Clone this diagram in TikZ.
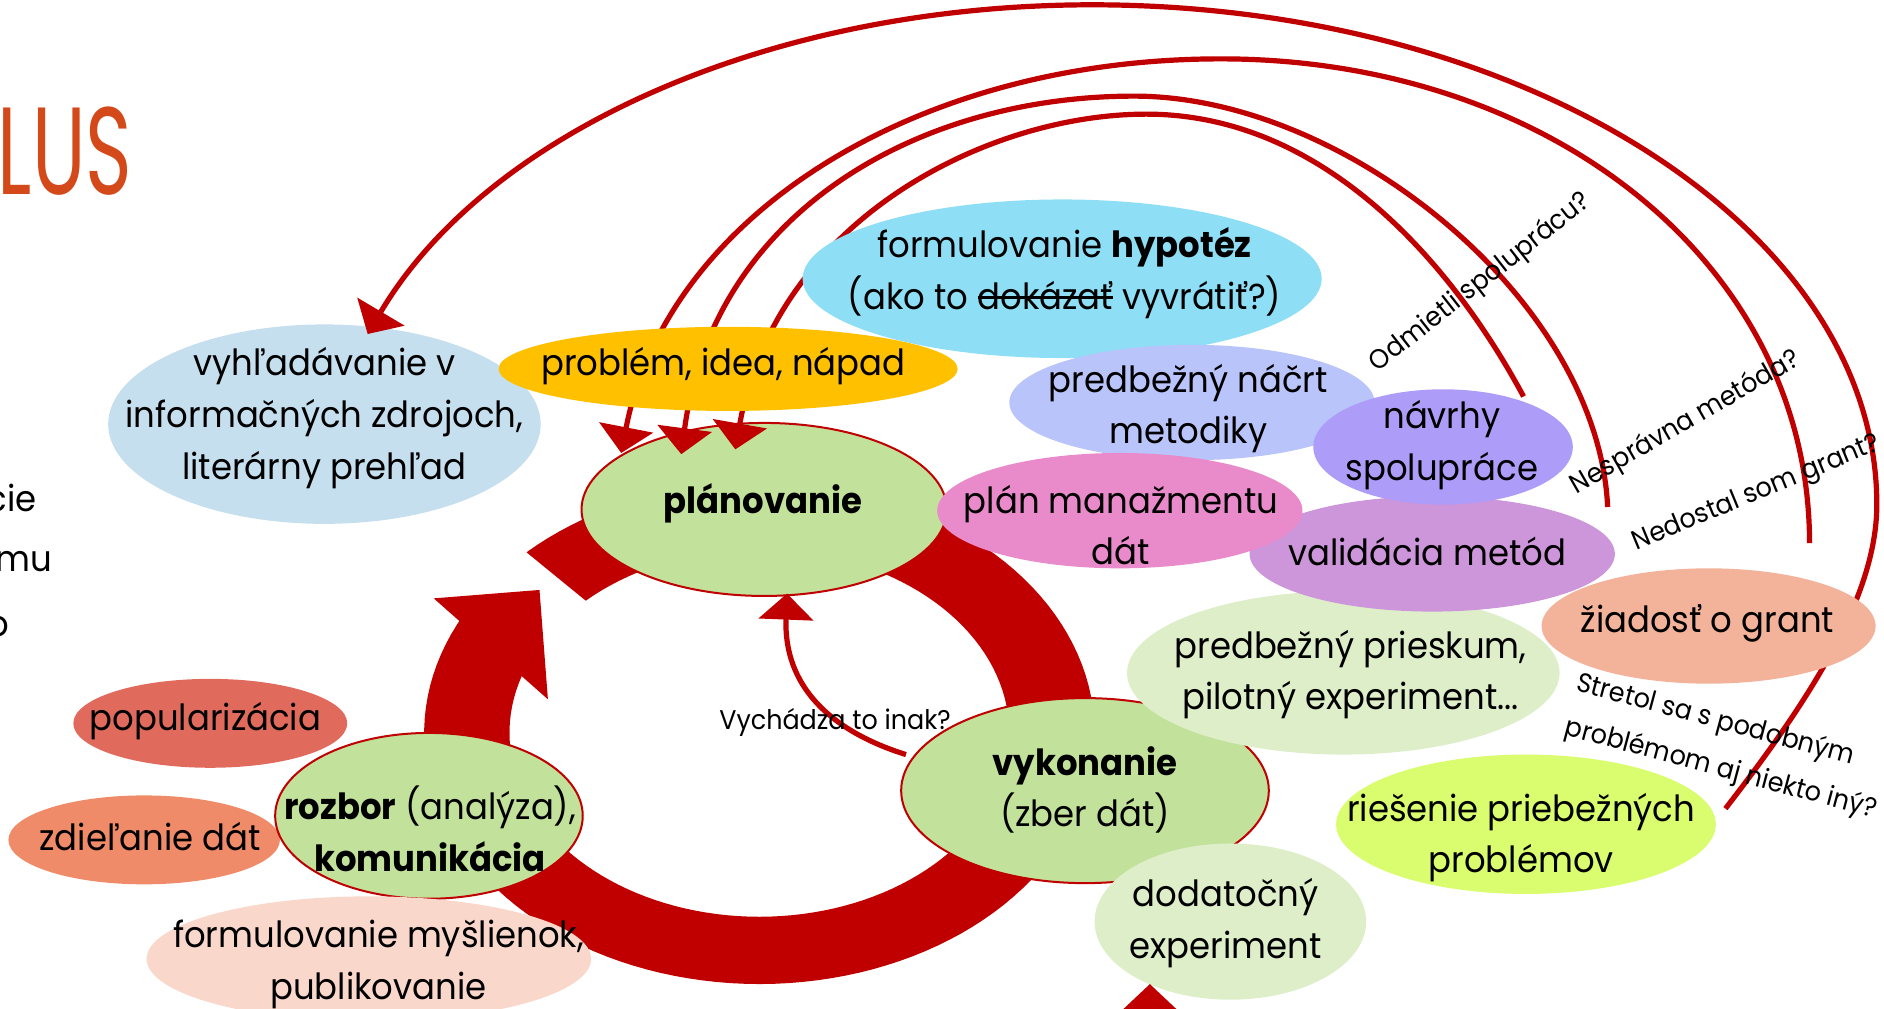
\documentclass[tikz,border=0pt]{standalone}
\usepackage{fontspec}
\setmainfont{Poppins}[FakeStretch=0.94]
\usetikzlibrary{shapes.geometric,arrows.meta,calc}
\newsavebox{\strkbox}
\newcommand{\strk}[1]{\sbox{\strkbox}{#1}\rlap{\rule[0.3em]{\wd\strkbox}{0.07em}}\usebox{\strkbox}}
\definecolor{cred}{HTML}{C00000}
\definecolor{cgreen}{HTML}{C2E19B}
\definecolor{cpale}{HTML}{DDEEC9}
\definecolor{cblue}{HTML}{C6DFEF}
\definecolor{cyellow}{HTML}{FFC000}
\definecolor{ccyan}{HTML}{8EDEF6}
\definecolor{cperi}{HTML}{B8C4FA}
\definecolor{cviolet}{HTML}{AE9DF8}
\definecolor{cpink}{HTML}{E98ACB}
\definecolor{corchid}{HTML}{CD95DA}
\definecolor{csalmon}{HTML}{F3B39B}
\definecolor{clime}{HTML}{DAFC6F}
\definecolor{cpop}{HTML}{E06B5D}
\definecolor{czdiel}{HTML}{EF8B69}
\definecolor{cpeach}{HTML}{F9D8CB}
\definecolor{ctitle}{HTML}{D4491A}
\tikzset{
  sz/.style 2 args={minimum width=#1*1.2pt, minimum height=#2*1.2pt},
  bub/.style={ellipse, inner sep=0pt, draw=none},
  grn/.style={bub, fill=cgreen, draw=cred, line width=1pt},
  txt/.style={align=center, inner sep=0pt, font=\fontsize{18}{25.8}\selectfont},
  lbl/.style={inner sep=0pt, font=\fontsize{13.5}{22.8}\selectfont},
  conn/.style={draw=cred, line width=2.6pt, -{Triangle[width=27pt,length=13pt]}},
}
\begin{document}
\begin{tikzpicture}[x=0.6pt,y=-0.6pt]
\useasboundingbox (0,0) rectangle (1568,839);
\clip (0,0) rectangle (1568,839);

% title and clipped slide text
\node[anchor=base west, inner sep=0pt, text=ctitle, font=\fontsize{62}{62}\selectfont] (title) at (-2,162) {\scalebox{0.68}[1]{LUS}};
\node[txt, anchor=base east] (l1) at (31,426) {cie};
\node[txt, anchor=base east] (l2) at (44,476) {mu};
\node[txt, anchor=base east] (l3) at (8,530) {o};

% cycle arrow
\fill[cred] plot[domain=134:-208, samples=140] ({632+279*cos(\x)},{610-209*sin(\x)})
  -- plot[domain=-208:134, samples=140] ({632+208*cos(\x)},{610-153*sin(\x)}) -- cycle;
\fill[cred] (361,498) -- (449,491) -- (456,582) -- cycle;

% nodes under the arcs
\node[bub, fill=cblue, sz={180}{83}] (vyh) at (270,353) {};
\node[txt] (vyh-t) at (270,348) {vyhľadávanie v\\informačných zdrojoch,\\literárny prehľad};
\node[grn, sz={152}{72}] (plan) at (636,424) {};
\node[txt] (plan-t) at (635,419) {\textbf{plánovanie}};

% feedback arcs
\coordinate (eA) at (1436,673);
\coordinate (e1) at (1506,452);
\coordinate (e2) at (1338,422);
\coordinate (e3) at (1268,330);
\draw[conn] (eA) .. controls (1500,590) and (1562,500) .. (1562,420)
  .. controls (1562,190) and (1269,4) .. (909,4)
  .. controls (640,4) and (405.5,110) .. ($(vyh.center)+(36,-75)$);
\draw[conn] (e1) .. controls (1506,220) and (1290,49) .. (1016,49)
  .. controls (760,49) and (555,181) .. ($(plan.center)+(-119,-47)$);
\draw[conn] (e2) .. controls (1330,250) and (1120,80) .. (944,80)
  .. controls (760,80) and (593,180) .. ($(plan.center)+(-69,-46)$);
\draw[conn] (e3) .. controls (1216,233) and (1110,95) .. (954,95)
  .. controls (820,95) and (645,185) .. ($(plan.center)+(-24,-50)$);

% other nodes
\node[bub, fill=ccyan, sz={216}{66}] (hyp) at (884,232) {};
\node[txt] (hyp-t) at (886,227.5) {formulovanie \textbf{hypotéz}\\(ako to \strk{dokázať} vyvrátiť?)};
\node[bub, fill=cyellow, sz={191}{35}] (prob) at (606,307) {};
\node[txt] (prob-t) at (602,305) {problém, idea, nápad};
\node[bub, fill=cperi, sz={152}{48}] (nacrt) at (992,335) {};
\node[txt] (nacrt-t) at (989,340) {predbežný náčrt\\metodiky};
\node[grn, sz={153}{77}] (vyk) at (903,658) {};
\node[txt] (vyk-t) at (903,657.5) {\textbf{vykonanie}\\(zber dát)};
\node[bub, fill=cpale, sz={180}{68}] (priesk) at (1118,560) {};
\node[txt] (priesk-t) at (1124,561.5) {predbežný prieskum,\\pilotný experiment...};
\node[bub, fill=corchid, sz={152}{48}] (valid) at (1192,461) {};
\node[txt] (valid-t) at (1188,459) {validácia metód};
\node[bub, fill=cviolet, sz={108}{48}] (navrhy) at (1201,372) {};
\node[txt] (navrhy-t) at (1200,370.5) {návrhy\\spolupráce};
\node[bub, fill=cpink, sz={152}{48}] (manaz) at (932,425) {};
\node[txt] (manaz-t) at (933,437) {plán manažmentu\\dát};
\node[bub, fill=csalmon, sz={139}{48}] (ziad) at (1422,521) {};
\node[txt] (ziad-t) at (1421,519) {žiadosť o grant};
\node[bub, fill=clime, sz={158}{58}] (ries) at (1270,686) {};
\node[txt] (ries-t) at (1266,697) {riešenie priebežných\\problémov};
\node[bub, fill=cpale, sz={113}{65}] (dodat) at (1024,767) {};
\node[txt] (dodat-t) at (1020,768.5) {dodatočný\\experiment};
\node[bub, fill=cpop, sz={114}{37}] (popul) at (175,602) {};
\node[txt] (popul-t) at (171,600) {popularizácia};
\node[bub, fill=czdiel, sz={113}{37}] (zdiel) at (120,699) {};
\node[txt] (zdiel-t) at (125,696) {zdieľanie dát};
\node[grn, sz={128}{69}] (rozb) at (357,679) {};
\node[txt] (rozb-t) at (358,690) {\textbf{rozbor} (analýza),\\\textbf{komunikácia}};
\node[bub, fill=cpeach, sz={185}{52}] (peach) at (307,798) {};
\node[txt] (peach-t) at (315,802.5) {formulovanie myšlienok,\\publikovanie};

% other connectors
\draw[conn] ($(vyk.center)+(-149,-30)$) .. controls (690,608) and (652,570) .. ($(plan.center)+(19,70)$);
\coordinate (eB) at (957,880);
\draw[conn] (eB) -- ($(dodat.center)+(-67,52)$);

% labels
\node[lbl] (q5) at (695,601) {Vychádza to inak?};
\node[lbl, rotate=38, anchor=base] (q1) at (1236,240) {Odmietli spoluprácu?};
\node[lbl, rotate=30, anchor=base] (q2) at (1406,357) {Nesprávna metóda?};
\node[lbl, rotate=22.4, anchor=base west] (q3) at (1362,458) {Nedostal som grant?};
\node[lbl, rotate=-15, align=left] (q4) at (1437,622) {Stretol sa s podobným\\problémom aj niekto iný?};
\end{tikzpicture}
\end{document}
